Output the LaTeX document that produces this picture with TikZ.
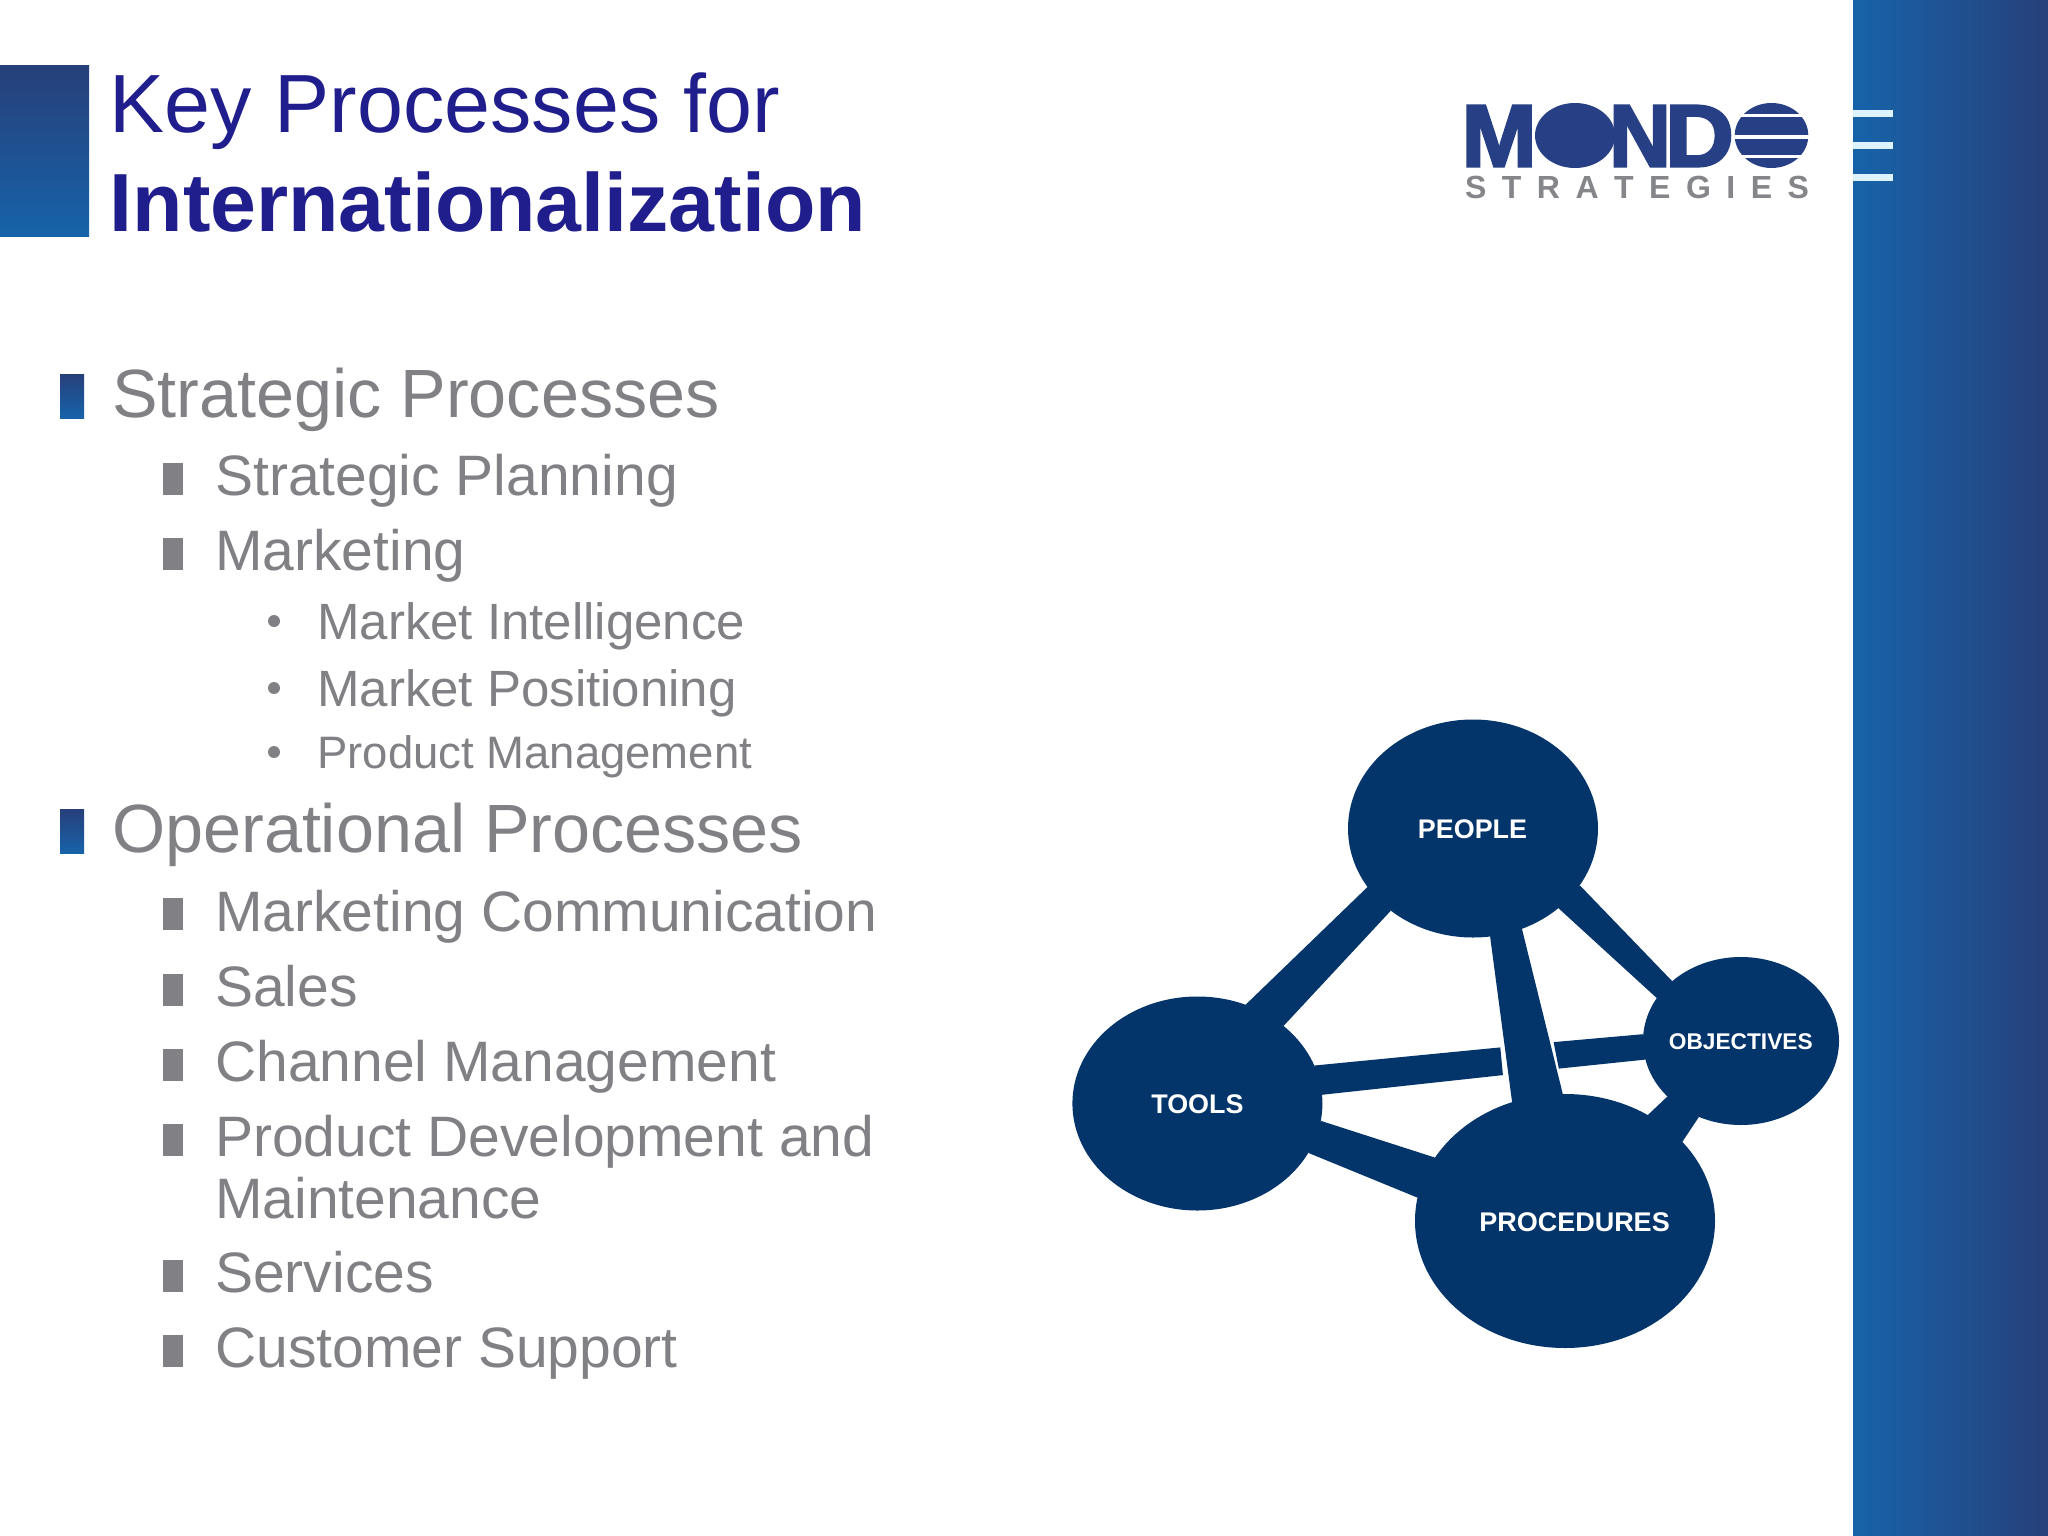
\documentclass[tikz,border=0pt]{standalone}
\usepackage{fontspec}
\setmainfont{Liberation Sans}
\newfontfamily\logofont[UprightFont={* Bold},UprightFeatures={FakeBold=3}]{Liberation Sans}
\usetikzlibrary{shapes.geometric}
\definecolor{navy}{HTML}{03346A}
\definecolor{titleblue}{HTML}{201E8C}
\definecolor{bodygray}{HTML}{808085}
\definecolor{barlight}{HTML}{1763AA}
\definecolor{bardark}{HTML}{27407A}
\definecolor{logoblue}{HTML}{263F85}
\definecolor{logogray}{HTML}{85868A}
\definecolor{tickc}{HTML}{DDF3FF}
\newcommand{\fs}[1]{\fontsize{#1}{#1}\selectfont}
\tikzset{
  bubble/.style={ellipse,fill=navy,draw=none,inner sep=0pt,outer sep=0pt,text width=0pt},
  bubbletext/.style={text=white,font=\bfseries\fs{#1},inner sep=0pt},
  link/.style={fill=navy,draw=none},
  lone/.style={anchor=base west,inner sep=0pt,text=bodygray,font=\fs{68.3}},
  ltwo/.style={anchor=base west,inner sep=0pt,text=bodygray,font=\fs{57}},
  lthree/.style={anchor=base west,inner sep=0pt,text=bodygray,font=\fs{#1}},
  bone/.style={bottom color=barlight,top color=bardark,draw=none,minimum width=24pt,minimum height=44pt,inner sep=0pt},
  btwo/.style={fill=bodygray,draw=none,minimum width=20pt,minimum height=32pt,inner sep=0pt},
  bthree/.style={circle,fill=bodygray,draw=none,minimum size=12pt,inner sep=0pt},
  titletext/.style={anchor=base west,inner sep=0pt,text=titleblue,font=\fs{82.6}},
  tick/.style={fill=tickc,draw=none},
  logoletter/.style={inner sep=0pt,text=logoblue,font=\logofont\fs{88}},
  stripe/.style={fill=white,draw=none}
}
\begin{document}
\begin{tikzpicture}[x=1pt,y=-1pt]
\useasboundingbox (0,0) rectangle (2048,1536);
\fill[white] (0,0) rectangle (2048,1536);
% right bar
\shade[left color=barlight,right color=bardark] (1853,0) rectangle (2048,1536);
\fill[tick] (1853,110) rectangle (1893,117);
\fill[tick] (1853,142) rectangle (1893,149);
\fill[tick] (1853,174) rectangle (1893,181);
% top-left block
\shade[top color=bardark,bottom color=barlight] (0,66) rectangle (89,236);
\node[titletext] (t1) at (109.5,132) {Key Processes for};
\node[titletext,font=\bfseries\fs{82.5}] (t2) at (109.5,231) {Internationalization};
% logo
\fill[logoblue] (1575,135.5) ellipse (40 and 32.5);
\node[logoletter] (logoM) at (1499,136) {\scalebox{1.02}[1]{M}};
\node[logoletter] (logoN) at (1640,136) {\scalebox{.97}[1]{N}};
\node[logoletter] (logoD) at (1699.5,136) {\scalebox{1.08}[1]{D}};
\fill[logoblue] (1771.5,135.5) ellipse (36.8 and 32.5);
\fill[stripe] (1734,114.5) rectangle (1812,117.5);
\fill[stripe] (1734,135.5) rectangle (1812,139);
\fill[stripe] (1734,155) rectangle (1812,158);
\node[inner sep=0pt,text=logogray,font=\bfseries\fs{32},anchor=base] (logoS) at (1637,198) {\makebox[344pt][s]{S\hfill T\hfill R\hfill A\hfill T\hfill E\hfill G\hfill I\hfill E\hfill S}};
% list
\node[bone] (b1) at (72,396) {};
\node[lone] (l1) at (112,417) {Strategic Processes};
\node[btwo] (b2) at (173,479) {};
\node[ltwo] (l2) at (215,495) {Strategic Planning};
\node[btwo] (b3) at (173,554) {};
\node[ltwo] (l3) at (215,570) {Marketing};
\node[bthree] (b4) at (274,621) {};
\node[lthree=51] (l4) at (317,639) {Market Intelligence};
\node[bthree] (b5) at (274,688) {};
\node[lthree=51] (l5) at (317,706) {Market Positioning};
\node[bthree] (b6) at (274,752) {};
\node[lthree=45.5] (l6) at (317,768) {Product Management};
\node[bone] (b7) at (72,831.5) {};
\node[lone] (l7) at (112,852.5) {Operational Processes};
\node[btwo] (b8) at (173,914) {};
\node[ltwo] (l8) at (215,931) {Marketing Communication};
\node[btwo] (b9) at (173,989.5) {};
\node[ltwo] (l9) at (215,1006) {Sales};
\node[btwo] (b10) at (173,1064.5) {};
\node[ltwo] (l10) at (215,1081) {Channel Management};
\node[btwo] (b11) at (173,1140) {};
\node[ltwo] (l11) at (215,1156) {Product Development and};
\node[ltwo] (l12) at (215,1218) {Maintenance};
\node[btwo] (b12) at (173,1276) {};
\node[ltwo] (l13) at (215,1292.5) {Services};
\node[btwo] (b13) at (173,1351) {};
\node[ltwo] (l14) at (215,1367.5) {Customer Support};
% network
\node[bubble,minimum width=250pt,minimum height=218pt] (people) at (1473,828.5) {};
\node[bubble,minimum width=250pt,minimum height=214pt] (tools) at (1197.4,1103.5) {};
\node[bubble,minimum width=196pt,minimum height=168pt] (objectives) at (1741,1041) {};
\node[bubble,minimum width=300pt,minimum height=254pt] (procedures) at (1565,1221) {};
\coordinate (gapLa) at (1500.3,1047.4);
\coordinate (gapLb) at (1502.9,1075.1);
\coordinate (gapRa) at (1553.6,1042.1);
\coordinate (gapRb) at (1558.8,1068.6);
\fill[link] (people.209.4) -- (tools.64.2) -- (tools.42.7) -- (people.225.2) -- cycle;
\fill[link] (people.332) -- (objectives.139.5) -- (objectives.153.6) -- (people.317.6) -- cycle;
\fill[link] (people.279.7) -- (procedures.114.8) -- (procedures.91.9) -- (people.296) -- cycle;
\fill[link] (tools.18.1) -- (gapLa) -- (gapLb) -- (tools.4.4) -- cycle;
\fill[link] (gapRa) -- (objectives.176) -- (objectives.191.1) -- (gapRb) -- cycle;
\fill[link] (tools.-8.9) -- (procedures.154.7) -- (procedures.171.8) -- (tools.-24.4) -- cycle;
\fill[link] (objectives.217.7) -- (procedures.52.1) -- (procedures.34.3) -- (objectives.241.3) -- cycle;
\node[bubbletext=26.9] (peopleL) at (1472.5,829.5) {PEOPLE};
\node[bubbletext=26.9] (toolsL) at (1197.4,1104.5) {TOOLS};
\node[bubbletext=22.7] (objectivesL) at (1740.8,1042) {OBJECTIVES};
\node[bubbletext=27] (proceduresL) at (1574.5,1222.5) {PROCEDURES};
\end{tikzpicture}
\end{document}
